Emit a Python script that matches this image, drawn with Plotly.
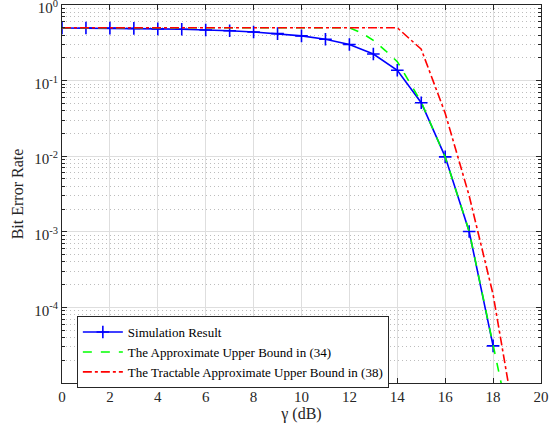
import plotly.graph_objects as go

# ─── data ──────────────────────────────────────────────────
gamma_sim = list(range(0, 19))
ber_sim = [0.497, 0.496, 0.494, 0.49, 0.484, 0.477, 0.468, 0.456, 0.44, 0.418,
           0.39, 0.352, 0.30, 0.225, 0.137, 0.051, 0.0098, 0.00101, 3.1e-5]

gamma_ub = [0, 2, 4, 6, 8, 10, 12, 12.5, 13, 13.5, 14, 15, 16, 17, 18, 19]
ber_ub = [0.5, 0.5, 0.5, 0.5, 0.5, 0.5, 0.5, 0.43, 0.34, 0.25, 0.178, 0.052,
          0.0097, 0.00102, 3.1e-5, 1e-6]

gamma_tub = [0, 2, 4, 6, 8, 10, 12, 14, 14.5, 15, 16, 17, 18, 19]
ber_tub = [0.5, 0.5, 0.5, 0.5, 0.5, 0.5, 0.5, 0.5, 0.36, 0.26, 0.037, 0.003,
           1.48e-4, 2.1e-6]

x_ticks = list(range(0, 21, 2))
y_ticks = [1e-5, 1e-4, 1e-3, 1e-2, 1e-1, 1e0]
y_ticktext = ["", "10<sup>-4</sup>", "10<sup>-3</sup>", "10<sup>-2</sup>",
              "10<sup>-1</sup>", "10<sup>0</sup>"]

FONT = "Liberation Serif"

fig = go.Figure()

fig.add_trace(go.Scatter(
    x=gamma_sim, y=ber_sim,
    mode="lines+markers",
    name="Simulation Result",
    line=dict(color="#0000ff", width=1.6),
    marker=dict(symbol="cross-thin", size=9,
                line=dict(color="#0000ff", width=1.6)),
))

fig.add_trace(go.Scatter(
    x=gamma_ub, y=ber_ub,
    mode="lines",
    name="The Approximate Upper Bound in (34)",
    line=dict(color="#00ff00", width=1.6, dash="dash"),
))

fig.add_trace(go.Scatter(
    x=gamma_tub, y=ber_tub,
    mode="lines",
    name="The Tractable Approximate Upper Bound in (38)",
    line=dict(color="#ff0000", width=1.6, dash="dashdot"),
))

fig.update_layout(
    width=557, height=434,
    margin=dict(l=62, r=16, t=5, b=51, autoexpand=False),
    paper_bgcolor="white",
    plot_bgcolor="white",
    font=dict(family=FONT, size=15, color="#262626"),
    showlegend=True,
    legend=dict(
        x=0.031, y=0.177, xanchor="left", yanchor="top",
        bgcolor="white", bordercolor="#262626", borderwidth=1,
        font=dict(family=FONT, size=13, color="#000000"),
        tracegroupgap=0, itemwidth=40,
    ),
)

fig.update_xaxes(
    range=[0, 20],
    tickvals=x_ticks,
    automargin=False,
    ticks="inside", ticklen=5, tickcolor="#262626",
    showline=True, linecolor="#262626", linewidth=1, mirror="ticks",
    showgrid=True, gridcolor="#dedede", gridwidth=1,
    zeroline=False,
    title=dict(text="γ (dB)", font=dict(family=FONT, size=16), standoff=2),
)

fig.update_yaxes(
    type="log",
    range=[-5, 0],
    tickvals=y_ticks, ticktext=y_ticktext,
    automargin=False,
    ticklabeloverflow="allow",
    ticklabelshift=3,
    ticks="inside", ticklen=5, tickcolor="#262626",
    showline=True, linecolor="#262626", linewidth=1, mirror="ticks",
    showgrid=True, gridcolor="#dedede", gridwidth=1,
    zeroline=False,
    minor=dict(ticks="inside", ticklen=3, tickcolor="#262626", dtick="D1",
               showgrid=True, gridcolor="#bdbdbd", griddash="1px,3px", gridwidth=1),
    title=dict(text="Bit Error Rate", font=dict(family=FONT, size=16), standoff=6),
)

# page body has a default 8px margin; drop it so the figure sits at (0, 0)
fig.write_html("out.html", config={"displayModeBar": False},
               post_script="document.body.style.margin='0px';")
